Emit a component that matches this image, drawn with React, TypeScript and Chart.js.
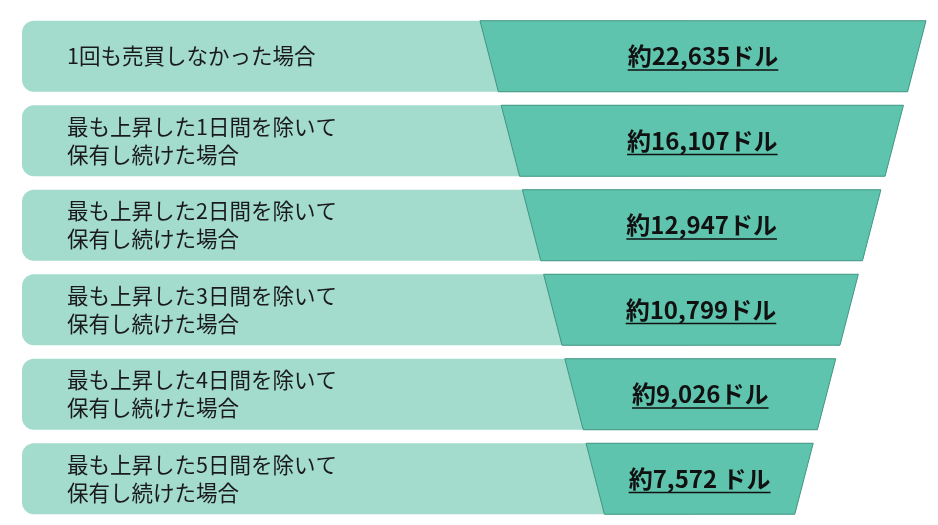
import { Chart, registerables } from 'chart.js';
import { useEffect, useRef } from 'react';

Chart.register(...registerables);

const categories = [
	['1回も売買しなかった場合'],
	['最も上昇した1日間を除いて', '保有し続けた場合'],
	['最も上昇した2日間を除いて', '保有し続けた場合'],
	['最も上昇した3日間を除いて', '保有し続けた場合'],
	['最も上昇した4日間を除いて', '保有し続けた場合'],
	['最も上昇した5日間を除いて', '保有し続けた場合'],
];
const values = [22635, 16107, 12947, 10799, 9026, 7572];
const valueLabels = ['約22,635ドル', '約16,107ドル', '約12,947ドル', '約10,799ドル', '約9,026ドル', '約7,572 ドル'];

const LIGHT = '#a3dbcd';
const DARK = '#5fc4ae';
const EDGE = '#3f9582';
const FONT = '"Noto Sans CJK JP", "Noto Sans", sans-serif';

// funnel outline in x-scale units (pixels of a 938 wide canvas)
const FUNNEL_LEFT = 480;
const FUNNEL_RIGHT = 926;
const FUNNEL_SLOPE = 0.259;

const funnelPlugin = {
	id: 'funnel',
	afterDatasetsDraw(chart: any) {
		const { ctx } = chart;
		const meta = chart.getDatasetMeta(1);
		const top0 = chart.getDatasetMeta(0).data[0];
		const y0 = top0.y - top0.height / 2;
		const xs = chart.scales.x;
		meta.data.forEach((bar: any, i: number) => {
			const t = bar.y - bar.height / 2;
			const b = bar.y + bar.height / 2;
			const drift = (t - y0) * 0.008; // funnel leans very slightly left
			const l1 = xs.getPixelForValue(FUNNEL_LEFT - drift + FUNNEL_SLOPE * (t - y0));
			const r1 = xs.getPixelForValue(FUNNEL_RIGHT - drift - FUNNEL_SLOPE * (t - y0));
			const l2 = xs.getPixelForValue(FUNNEL_LEFT - drift + FUNNEL_SLOPE * (b - y0));
			const r2 = xs.getPixelForValue(FUNNEL_RIGHT - drift - FUNNEL_SLOPE * (b - y0));
			ctx.save();
			ctx.beginPath();
			ctx.moveTo(l1, t);
			ctx.lineTo(r1, t);
			ctx.lineTo(r2, b);
			ctx.lineTo(l2, b);
			ctx.closePath();
			ctx.fillStyle = DARK;
			ctx.fill();
			ctx.strokeStyle = EDGE;
			ctx.lineWidth = 1;
			ctx.stroke();

			// value label, bold + underlined
			const cx = (l1 + r1) / 2;
			ctx.font = `bold 24px ${FONT}`;
			ctx.fillStyle = '#111';
			ctx.textAlign = 'center';
			ctx.textBaseline = 'middle';
			const txt = valueLabels[i] ?? String(values[i]);
			ctx.fillText(txt, cx, bar.y);
			const w = ctx.measureText(txt).width;
			ctx.fillRect(cx - w / 2, bar.y + 13, w, 1.5);

			// category text on the light band
			ctx.font = `21.5px ${FONT}`;
			ctx.fillStyle = '#1a1a1a';
			ctx.textAlign = 'left';
			const lines = categories[i];
			const lh = 28;
			lines.forEach((ln, k) => {
				const yy = bar.y + (k - (lines.length - 1) / 2) * lh;
				ctx.fillText(ln, xs.getPixelForValue(67), yy);
			});
			ctx.restore();
		});
	},
};

export default function App() {
	const ref = useRef<HTMLCanvasElement | null>(null);
	useEffect(() => {
		if (!ref.current) return;
		const chart = new Chart(ref.current, {
			type: 'bar',
			data: {
				labels: categories.map((c) => c.join('')),
				datasets: [
					{
						data: values.map(() => [22, 700]) as any,
						backgroundColor: LIGHT,
						borderRadius: 12,
						borderSkipped: false,
						categoryPercentage: 1,
						barPercentage: 0.84,
						grouped: false,
					},
					{
						data: values.map(() => [FUNNEL_LEFT, FUNNEL_RIGHT]) as any,
						backgroundColor: 'rgba(0,0,0,0)',
						categoryPercentage: 1,
						barPercentage: 0.84,
						grouped: false,
					},
				],
			},
			options: {
				indexAxis: 'y',
				animation: false,
				responsive: true,
				maintainAspectRatio: false,
				layout: { padding: { top: 14, bottom: 4, left: 0, right: 0 } },
				scales: {
					x: { type: 'linear', min: 0, max: 938, display: false },
					y: { display: false },
				},
				plugins: {
					legend: { display: false },
					tooltip: { enabled: false },
				},
			},
			plugins: [funnelPlugin],
		});
		return () => chart.destroy();
	}, []);

	return (
		<div style={{ position: 'fixed', left: 0, top: 0, width: 938, height: 525, background: '#fff' }}>
			<canvas ref={ref}></canvas>
		</div>
	);
}
